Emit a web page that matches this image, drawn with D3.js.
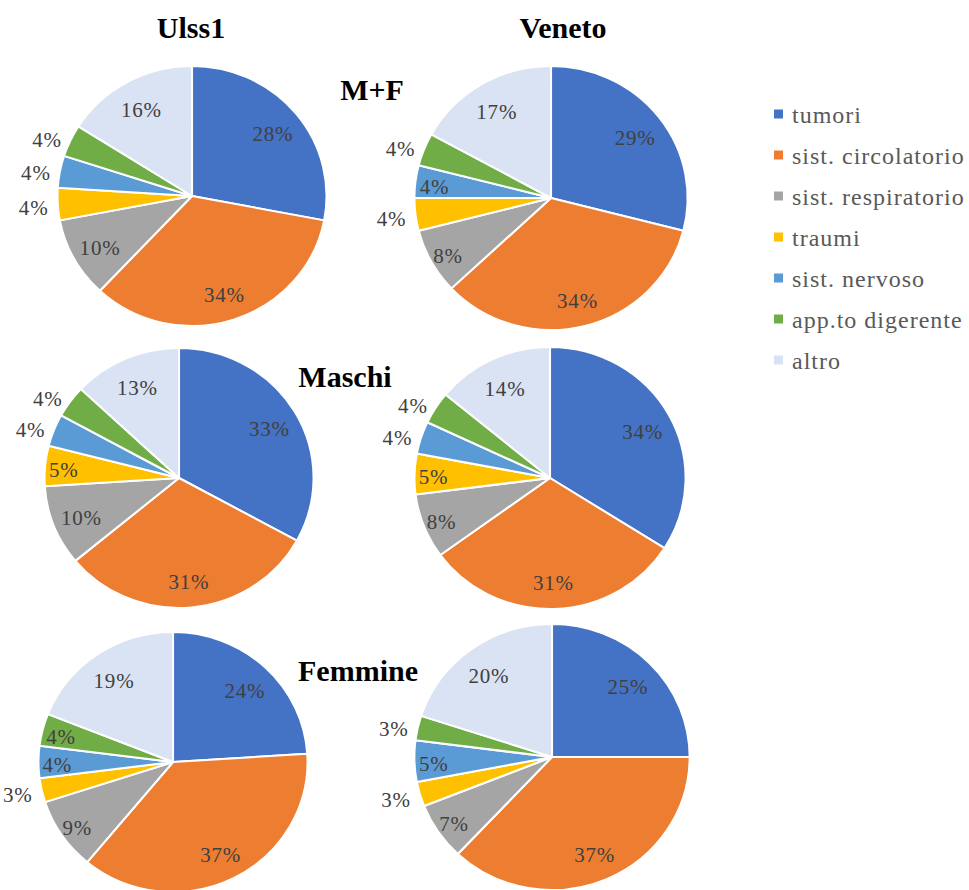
<!DOCTYPE html>
<html>
<head>
<meta charset="utf-8">
<script src="https://cdn.jsdelivr.net/npm/d3@7"></script>
<style>
  body { margin: 0; background: #fff; }
  svg { display: block; }
</style>
</head>
<body>
<svg id="chart" width="969" height="890"></svg>
<script>
// categorie e valori (%)
const categories = ['tumori', 'sist. circolatorio', 'sist. respiratorio', 'traumi',
  'sist. nervoso', 'app.to digerente', 'altro'];
const colors = ['#4472C4', '#ED7D31', '#A5A5A5', '#FFC000', '#5B9BD5', '#70AD47', '#DAE3F3'];

const ulssMF = [28, 34, 10, 4, 4, 4, 16];
const venetoMF = [29, 34, 8, 4, 4, 4, 17];
const ulssM = [33, 31, 10, 5, 4, 4, 13];
const venetoM = [34, 31, 8, 5, 4, 4, 14];
const ulssF = [24, 37, 9, 3, 4, 4, 19];
const venetoF = [25, 37, 7, 3, 5, 3, 20];

const columnTitles = ['Ulss1', 'Veneto'];
const rowTitles = ['M+F', 'Maschi', 'Femmine'];

const FONT = '"Liberation Serif", "Times New Roman", Times, serif';

// layout: centro e raggio di ogni torta, etichette esterne (indici)
const panels = [
  { values: ulssMF, cx: 192, cy: 196, r: 130, outside: [3, 4, 5] },
  { values: venetoMF, cx: 551, cy: 198, r: 132, outside: [3, 5] },
  { values: ulssM, cx: 179, cy: 478, r: 130, outside: [4, 5] },
  { values: venetoM, cx: 550, cy: 478, r: 131, outside: [4, 5] },
  { values: ulssF, cx: 173, cy: 762, r: 130, outside: [3] },
  { values: venetoF, cx: 552, cy: 757, r: 133, outside: [3, 5] }
];
const sx = 1.035; // l'immagine originale è leggermente allungata in orizzontale

const svg = d3.select('#chart');
const color = d3.scaleOrdinal().domain(categories).range(colors);
const pie = d3.pie().sort(null).value(d => d.value);

panels.forEach(p => {
  const data = p.values.map((v, i) => ({ key: categories[i], value: v, index: i }));
  const arcs = pie(data);
  const arc = d3.arc().innerRadius(0).outerRadius(p.r);

  const g = svg.append('g').attr('transform', `translate(${p.cx},${p.cy})`);
  g.append('g')
    .attr('transform', `scale(${sx},1)`)
    .selectAll('path')
    .data(arcs)
    .join('path')
    .attr('d', arc)
    .attr('fill', d => color(d.data.key))
    .attr('stroke', '#fff')
    .attr('stroke-width', 2)
    .attr('stroke-linejoin', 'round');

  // etichette: dentro la fetta, oppure fuori per le fette piccole
  g.selectAll('text')
    .data(arcs)
    .join('text')
    .each(function (d) {
      const a = (d.startAngle + d.endAngle) / 2;
      const out = p.outside.includes(d.index);
      const k = out ? p.r + 9 : p.r * (d.value >= 10 ? 0.78 : 0.86);
      const x = Math.sin(a) * k * sx;
      const y = -Math.cos(a) * k;
      d3.select(this)
        .attr('x', x)
        .attr('y', y + 3)
        .attr('text-anchor', out ? (x < 0 ? 'end' : 'start') : 'middle');
    })
    .attr('dominant-baseline', 'central')
    .attr('font-family', FONT)
    .attr('font-size', 21)
    .attr('letter-spacing', 0.8)
    .attr('fill', '#404040')
    .text(d => `${d.value}%`);
});

// titoli
const titleFont = sel => sel
  .attr('font-family', FONT)
  .attr('font-size', 30)
  .attr('font-weight', 'bold')
  .attr('text-anchor', 'middle')
  .attr('fill', '#000');

const colX = [191, 563];
svg.selectAll('text.coltitle')
  .data(columnTitles)
  .join('text')
  .attr('class', 'coltitle')
  .attr('x', (d, i) => colX[i])
  .attr('y', 38)
  .text(d => d)
  .call(titleFont);

const rowPos = [[372, 100], [345, 387], [358, 681]];
svg.selectAll('text.rowtitle')
  .data(rowTitles)
  .join('text')
  .attr('class', 'rowtitle')
  .attr('x', (d, i) => rowPos[i][0])
  .attr('y', (d, i) => rowPos[i][1])
  .text(d => d)
  .call(titleFont);

// legenda
const legendY = d3.scalePoint().domain(categories).range([114, 360]);
const legend = svg.append('g')
  .selectAll('g')
  .data(categories)
  .join('g')
  .attr('transform', d => `translate(774,${legendY(d)})`);

legend.append('rect')
  .attr('x', 0)
  .attr('y', -4.5)
  .attr('width', 9)
  .attr('height', 9)
  .attr('fill', d => color(d));

legend.append('text')
  .attr('x', 18)
  .attr('y', 1)
  .attr('dominant-baseline', 'central')
  .attr('font-family', FONT)
  .attr('font-size', 24)
  .attr('letter-spacing', 1)
  .attr('fill', '#595959')
  .text(d => d);
</script>
</body>
</html>
